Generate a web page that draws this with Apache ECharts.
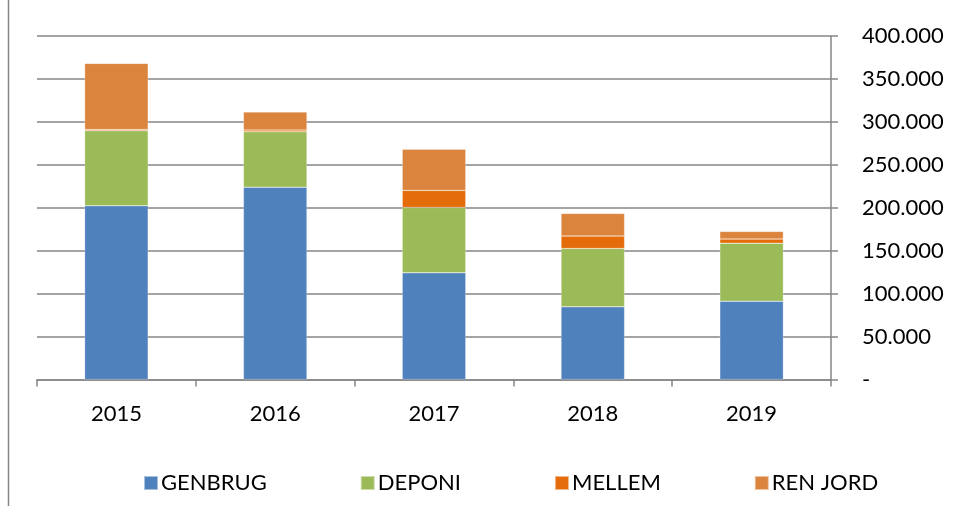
<!DOCTYPE html>
<html><head><meta charset="utf-8">
<script src="https://cdn.jsdelivr.net/npm/echarts@6/dist/echarts.min.js"></script>
<style>html,body{margin:0;padding:0;background:#fff}#c{width:960px;height:506px}</style>
</head><body><div id="c"></div>
<script>
const years = ['2015','2016','2017','2018','2019'];
const genbrug = [202300, 224000, 124200, 84600, 91200];
const deponi  = [87300, 64500, 76200, 68000, 67600];
const mellem  = [1500, 2000, 19800, 14400, 4700];
const renJord = [77000, 21000, 47800, 26400, 8900];
const seriesNames = ['GENBRUG','DEPONI','MELLEM','REN JORD'];
const colors = ['#4F81BD','#9BBB59','#E46C0A','#DB843D'];
const font = 'Lato, "Open Sans", sans-serif';

const chart = echarts.init(document.getElementById('c'));
const mk = (name, data, i) => ({
  name, type:'bar', stack:'a', data, barCategoryGap:'60%',
  itemStyle:{color:colors[i], borderColor:'rgba(255,255,255,0.5)', borderWidth:0.5},
  emphasis:{disabled:true}
});
chart.setOption({
  animation:false,
  color:colors,
  grid:{left:37, right:129, top:36, bottom:126.5},
  legend:{
    bottom:7, left:138, itemWidth:14, itemHeight:14, itemGap:93, icon:'rect',
    textStyle:{fontFamily:font, fontSize:22, color:'#000', padding:[0,0,0,-2]},
    data:seriesNames
  },
  xAxis:{
    type:'category', data:years,
    axisLine:{lineStyle:{color:'#868686', width:1.5}},
    axisTick:{show:true, length:7, lineStyle:{color:'#868686', width:1.5}},
    axisLabel:{fontFamily:font, fontSize:22, color:'#000', margin:23}
  },
  yAxis:{
    type:'value', position:'right', min:0, max:400000, interval:50000,
    axisLine:{show:true, lineStyle:{color:'#868686', width:1.5}},
    axisTick:{show:true, length:7, inside:false, lineStyle:{color:'#868686', width:1.5}},
    splitLine:{lineStyle:{color:'#868686', width:1.5}},
    axisLabel:{fontFamily:font, fontSize:22, color:'#000', margin:31,
      formatter:v => v===0 ? '-' : v.toLocaleString('de-DE')}
  },
  graphic:[{type:'line', shape:{x1:8.5,y1:0,x2:8.5,y2:506}, style:{stroke:'#868686', lineWidth:1.5}, silent:true}],
  series:[mk(seriesNames[0],genbrug,0), mk(seriesNames[1],deponi,1), mk(seriesNames[2],mellem,2), mk(seriesNames[3],renJord,3)]
});
</script></body></html>
